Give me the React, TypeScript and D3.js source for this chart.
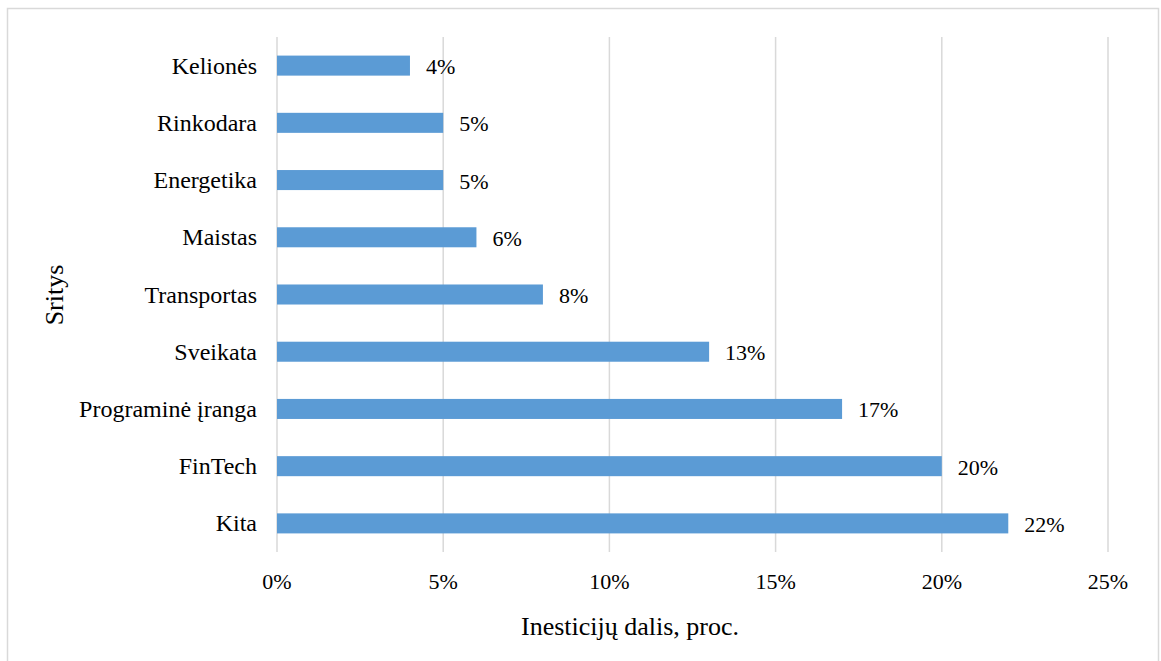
import React from "react";
import * as d3 from "d3";

const categories = ["Kelionės", "Rinkodara", "Energetika", "Maistas", "Transportas", "Sveikata", "Programinė įranga", "FinTech", "Kita"];
const values = [4, 5, 5, 6, 8, 13, 17, 20, 22];
const xTicks = [0, 5, 10, 15, 20, 25];
const xTitle = "Inesticijų dalis, proc.";
const yTitle = "Sritys";

const W = 1161;
const H = 661;
const FONT = "'Liberation Serif', 'Times New Roman', serif";

export default function App() {
  const x = d3.scaleLinear().domain([0, 25]).range([277, 1108]);
  const y = d3.scaleBand<string>().domain(categories).range([37, 552]).paddingInner(0.65).paddingOuter(0.325);
  const bw = y.bandwidth();
  return (
    <svg width={W} height={H} style={{ position: "absolute", left: 0, top: 0 }} fontFamily={FONT}>
      <rect x={0} y={0} width={W} height={H} fill="#fff" />
      <rect x={7.5} y={8.5} width={1151} height={H} fill="none" stroke="#D9D9D9" strokeWidth={1.5} />
      {xTicks.map((t) => (
        <line key={t} x1={x(t)} x2={x(t)} y1={37} y2={552} stroke="#D9D9D9" strokeWidth={1.5} />
      ))}
      {categories.map((c, i) => (
        <g key={c}>
          <rect x={x(0)} y={y(c)!} width={x(values[i]) - x(0)} height={bw} fill="#5B9BD5" />
          <text x={x(values[i]) + 16} y={y(c)! + bw / 2 + 1} dominantBaseline="central" fontSize={22} fill="#000">
            {values[i]}%
          </text>
          <text x={257} y={y(c)! + bw / 2} dominantBaseline="central" textAnchor="end" fontSize={24} fill="#000">
            {c}
          </text>
        </g>
      ))}
      {xTicks.map((t) => (
        <text key={t} x={x(t)} y={589} textAnchor="middle" fontSize={22} fill="#000">
          {t}%
        </text>
      ))}
      <text x={630} y={635} textAnchor="middle" fontSize={26} fill="#000">
        {xTitle}
      </text>
      <text transform={`translate(63,295) rotate(-90)`} textAnchor="middle" fontSize={26} fill="#000">
        {yTitle}
      </text>
    </svg>
  );
}
